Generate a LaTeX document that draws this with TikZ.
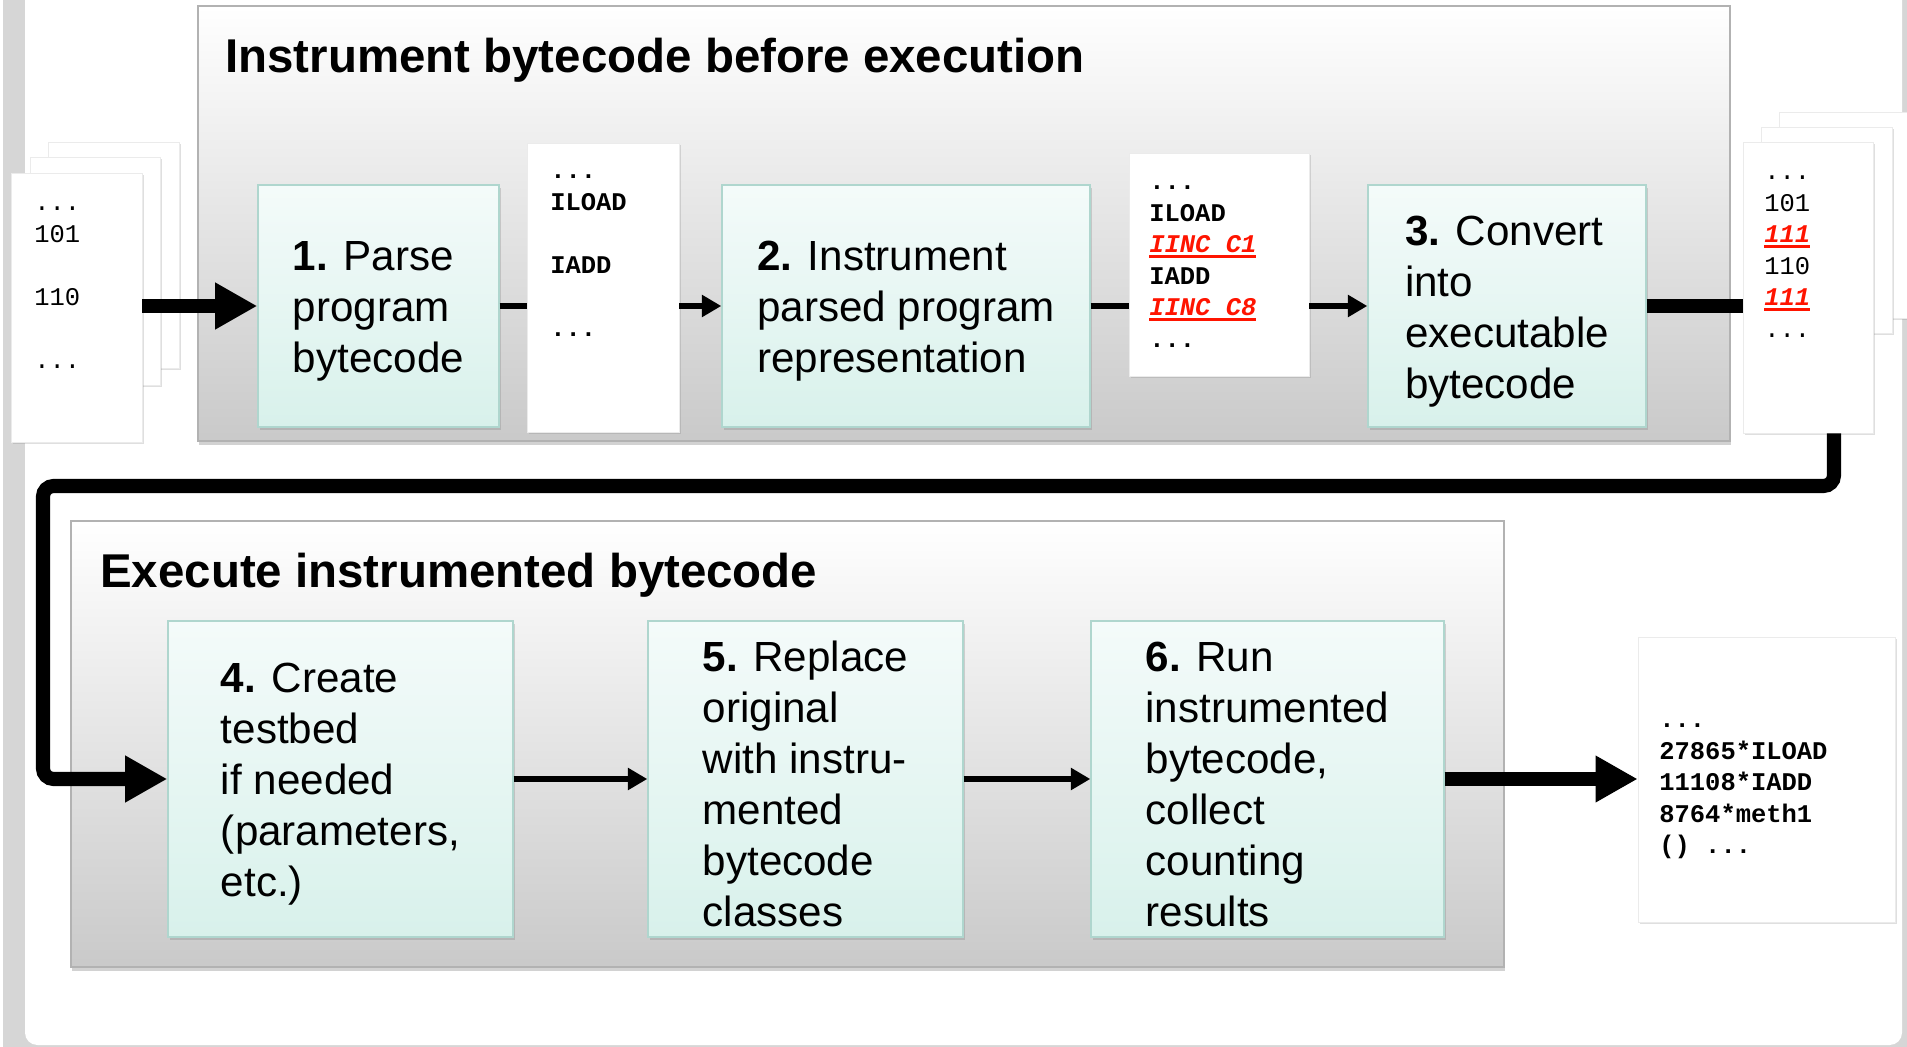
\documentclass[tikz,border=0pt]{standalone}
\usepackage{fontspec}
\setmainfont{Liberation Sans}
\setmonofont{Liberation Mono}
\usetikzlibrary{arrows.meta,shadows,fit}
\definecolor{framegray}{HTML}{D6D6D6}
\definecolor{steptop}{HTML}{F4FBFA}
\definecolor{stepbottom}{HTML}{D8F1EB}
\definecolor{stepborder}{HTML}{AFD6CE}
\definecolor{instred}{HTML}{FF1400}
\newcommand{\redcode}[1]{{\color{instred}\bfseries\itshape\setbox0\hbox{#1}\rlap{\rule[-3pt]{\wd0}{1.6pt}}\box0}}
\begin{document}
\begin{tikzpicture}[x=0.02cm,y=-0.02cm]
        % Styles
        \tikzstyle{stagebox}=[draw=black!30,line width=0.6pt,top color=white,middle color=black!3,bottom color=black!21,inner sep=0pt,drop shadow={shadow xshift=0.5pt,shadow yshift=-2.5pt,opacity=0.35}]
        \tikzstyle{stagetitle}=[anchor=base west,inner sep=0pt,font=\fontsize{27}{32}\selectfont\bfseries]
        \tikzstyle{stepbox}=[draw=stepborder,line width=0.8pt,top color=steptop,bottom color=stepbottom,inner sep=0pt,drop shadow={shadow xshift=1pt,shadow yshift=-1.5pt,opacity=0.3}]
        \tikzstyle{steptext}=[inner sep=0pt,yshift=-3pt,align=left,font=\fontsize{24}{29}\selectfont]
        \tikzstyle{sheet}=[fill=white,draw=black!8,line width=0.4pt,inner sep=0pt,drop shadow={shadow xshift=1.2pt,shadow yshift=-1.2pt,opacity=0.25}]
        \tikzstyle{codetext}=[anchor=north west,inner sep=0pt,align=left,font=\fontsize{14.5}{18}\selectfont\ttfamily]
        \tikzstyle{bigline}=[line width=8pt]
        \tikzstyle{bigarrow}=[line width=8pt,-{Triangle[length=24pt,width=25pt]}]
        \tikzstyle{thinline}=[line width=3.8pt]
        \tikzstyle{thinarrow}=[line width=3.8pt,-{Triangle[length=11pt,width=12pt]}]
        \useasboundingbox (0,0) rectangle (1907,1047);
        %frame
        \fill[framegray] (3,0) rectangle (1907,1047);
        \fill[white,rounded corners=7pt] (25,-40) rectangle (1902,1045);
        %stages
        \node[stagebox,fit={(198,6) (1730,441)}] (before) {};
        \node[stagetitle] (beforetitle) at (225,73) {Instrument bytecode before execution};
        \node[stagebox,fit={(71,521) (1504,967)}] (execute) {};
        \node[stagetitle] (executetitle) at (100,587) {Execute instrumented bytecode};
        %sheets
        \node[sheet,fit={(48,142) (179,368)}] (in3) {};
        \node[sheet,fit={(30,157) (160,385)}] (in2) {};
        \node[sheet,fit={(11,173) (142,442)}] (in1) {};
        \node[sheet,fit={(527,143) (679,432)}] (parsed) {};
        \node[sheet,fit={(1129,153) (1309,376)}] (marked) {};
        \node[sheet,fit={(1779,112) (1930,318)}] (out3) {};
        \node[sheet,fit={(1761,127) (1892,333)}] (out2) {};
        \node[sheet,fit={(1743,142) (1873,433)}] (out1) {};
        \node[sheet,fit={(1638,637) (1895,922)}] (counts) {};
        %steps
        \node[stepbox,fit={(258,185) (499,427)}] (parse) {};
        \node[stepbox,fit={(722,185) (1090,427)}] (instrument) {};
        \node[stepbox,fit={(1368,185) (1646,427)}] (convert) {};
        \node[stepbox,fit={(168,621) (513,937)}] (create) {};
        \node[stepbox,fit={(648,621) (963,937)}] (replace) {};
        \node[stepbox,fit={(1091,621) (1444,937)}] (run) {};
        \node[steptext] (parsetext) at (parse) {\textbf{1.} Parse\\program\\bytecode};
        \node[steptext] (instrumenttext) at (instrument) {\textbf{2.} Instrument\\parsed program\\representation};
        \node[steptext] (converttext) at (convert) {\textbf{3.} Convert\\into\\executable\\bytecode};
        \node[steptext] (createtext) at (create) {\textbf{4.} Create\\testbed\\if needed\\(parameters,\\etc.)};
        \node[steptext] (replacetext) at (replace) {\textbf{5.} Replace\\original\\with instru-\\mented\\bytecode\\classes};
        \node[steptext] (runtext) at (run) {\textbf{6.} Run\\instrumented\\bytecode,\\collect\\counting\\results};
        %connectors
        \draw[bigarrow] (in1.east |- parse.west) -- (parse.west);
        \draw[thinline] (parse.east) -- (parse.east -| parsed.west);
        \draw[thinarrow] (parsed.east |- instrument.west) -- (instrument.west);
        \draw[thinline] (instrument.east) -- (instrument.east -| marked.west);
        \draw[thinarrow] (marked.east |- convert.west) -- (convert.west);
        \draw[bigline] (convert.east) -- (convert.east -| out1.west);
        \draw[bigarrow,rounded corners=6pt] (out1.south) ++(26,0) |- (43,486) |- (create.west);
        \draw[thinarrow] (create.east) -- (replace.west);
        \draw[thinarrow] (replace.east) -- (run.west);
        \draw[bigarrow] (run.east) -- (run.east -| counts.west);
        %code
        \node[codetext] (intext) at (34,188) {\strut...\\101\\[18pt]110\\[18pt]...};
        \node[codetext,font=\fontsize{14.5}{18}\selectfont\ttfamily\bfseries] (parsedtext) at (550,156) {\strut...\\ILOAD\\[18pt]IADD\\[18pt]...};
        \node[codetext,font=\fontsize{14.5}{18}\selectfont\ttfamily\bfseries] (markedtext) at (1149,167) {\strut...\\ILOAD\\\redcode{IINC C1}\\IADD\\\redcode{IINC C8}\\...};
        \node[codetext] (outtext) at (1764,157) {\strut...\\101\\\redcode{111}\\110\\\redcode{111}\\...};
        \node[codetext,font=\fontsize{14.5}{18}\selectfont\ttfamily\bfseries] (countstext) at (1659,705) {\strut...\\27865*ILOAD\\11108*IADD\\8764*meth1\\() ...};
\end{tikzpicture}
\end{document}
